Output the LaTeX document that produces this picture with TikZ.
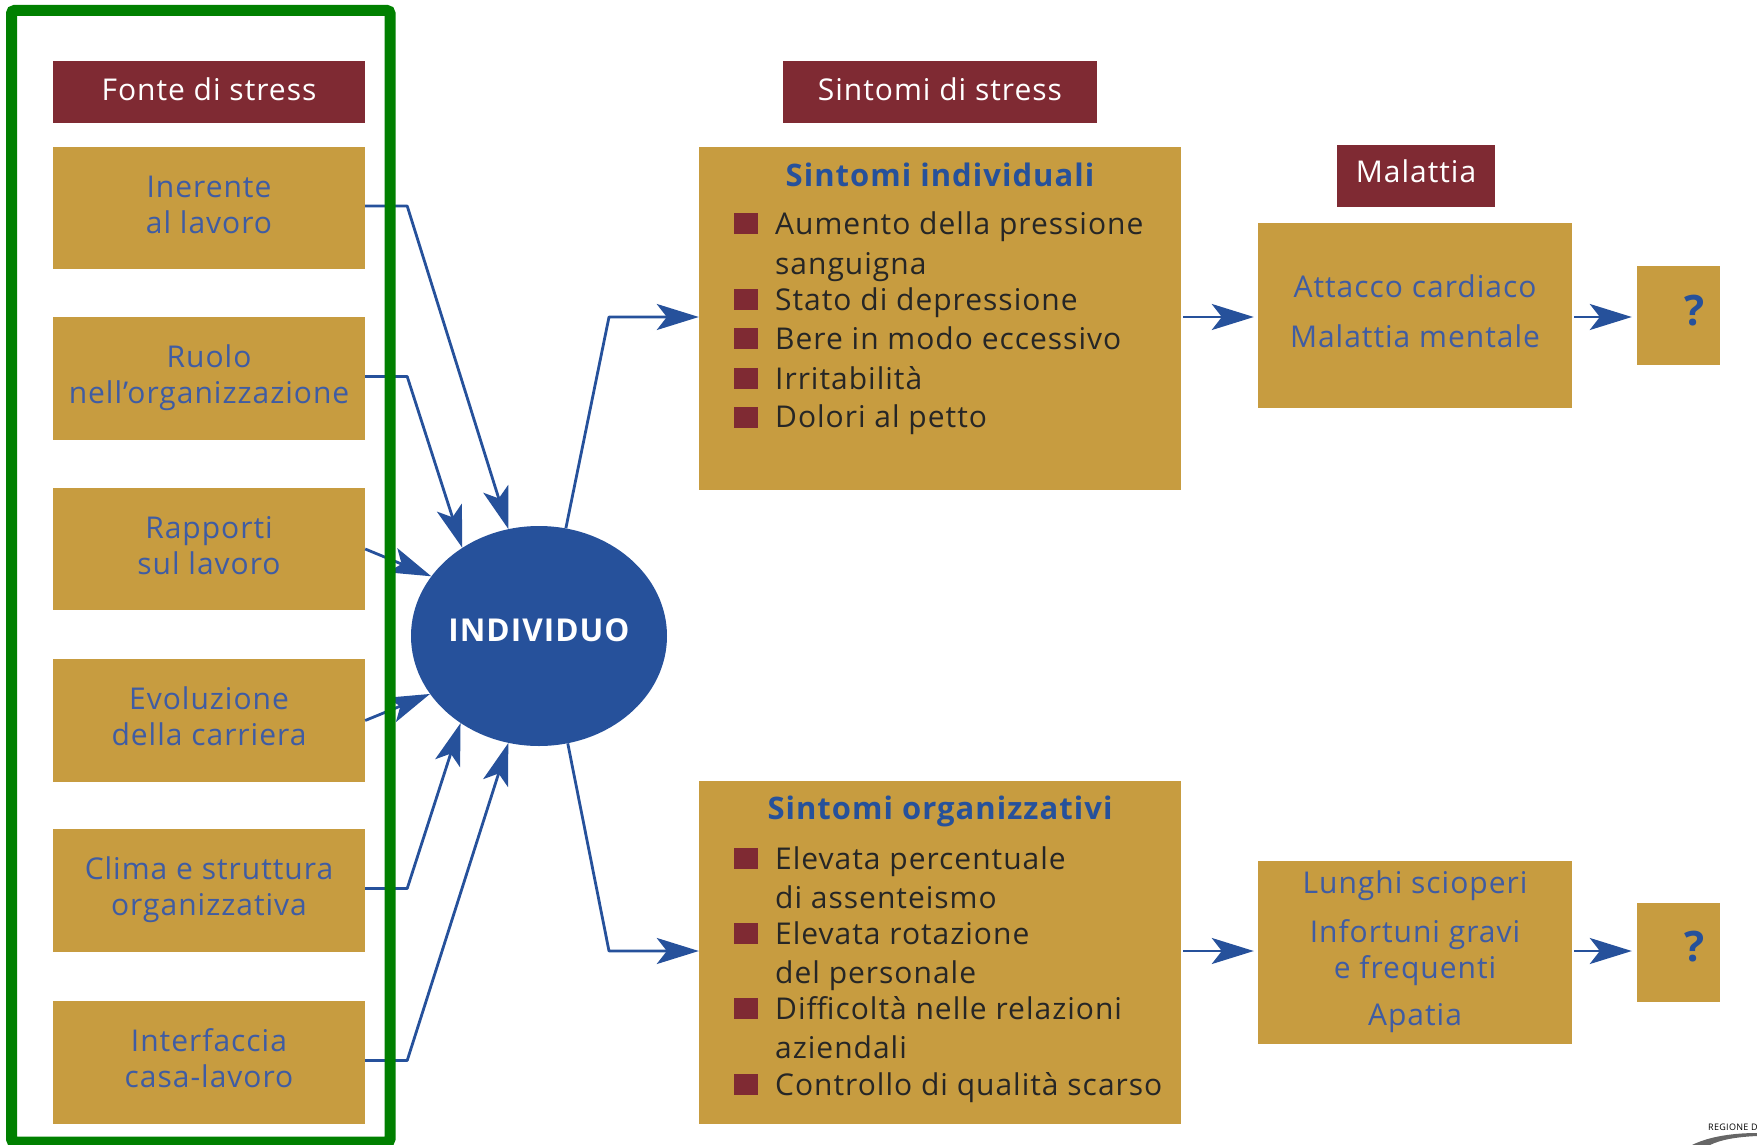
\documentclass[tikz,border=0pt]{standalone}
\usepackage{fontspec}
\setmainfont{Open Sans}[LetterSpace=3.3]
\usetikzlibrary{arrows.meta,shapes.geometric}
\definecolor{rosso}{HTML}{7F2A33}
\definecolor{ocra}{HTML}{C79C40}
\definecolor{blu}{HTML}{26519B}
\definecolor{blutesto}{HTML}{3F5CA3}
\definecolor{verde}{HTML}{008000}

\begin{document}
\begin{tikzpicture}[x=1pt,y=-1pt,
    testa/.style={fill=rosso,text=white,inner sep=0pt,minimum height=62.5pt,text depth=5pt,font=\fontsize{30}{36}\selectfont},
    scatola/.style={fill=ocra,text=blutesto,align=center,inner sep=0pt,font=\fontsize{30}{36.4}\selectfont},
    interrogativo/.style={scatola,text=blu,minimum width=83pt,minimum height=99pt,text depth=11pt,font=\fontsize{42}{44}\selectfont\bfseries},
    voce/.style={anchor=base west,inner sep=0pt,text=black!85,font=\fontsize{30}{36}\selectfont},
    titolo/.style={inner sep=0pt,text=blu,font=\fontsize{31}{36}\selectfont\bfseries},
    punto/.style={fill=rosso,inner sep=0pt,minimum width=24pt,minimum height=21pt},
    freccia/.style={-{Stealth[length=42pt,width=26pt,inset=10pt]},blu,line width=2.8pt,line join=round}]
\useasboundingbox (0,0) rectangle (1757,1145);

% Sources
\node[testa,minimum width=312pt] (fonte) at (209,92) {Fonte di stress};
\foreach \nome/\ypos/\testo in {lavoro/208/{Inerente\\al lavoro},
    ruolo/378.5/{Ruolo\\nell’organizzazione},
    rapporti/549/{Rapporti\\sul lavoro},
    carriera/720.5/{Evoluzione\\della carriera},
    clima/890.5/{Clima e struttura\\organizzativa},
    casa/1062.5/{Interfaccia\\casa-lavoro}} {
    \node[scatola,minimum width=312pt,minimum height=122.5pt] (\nome) at (209,\ypos) {\strut\testo\strut};
}

% Individual
\node[ellipse,fill=blu,text=white,inner sep=0pt,minimum width=256pt,minimum height=220pt] (individuo) at (539,636) {};
\node[inner sep=0pt,text=white,font=\fontsize{31.5}{36}\selectfont\bfseries] (nomeind) at (539,630) {INDIVIDUO};

% Symptoms
\node[testa,minimum width=314pt] (sintomi) at (940,92) {Sintomi di stress};
\node[scatola,minimum width=482pt,minimum height=343pt] (sintind) at (940,318.5) {};
\node[scatola,minimum width=482pt,minimum height=343pt] (sintorg) at (940,952.5) {};
\node[titolo] (titind) at (940,175) {Sintomi individuali};
\node[titolo] (titorg) at (940,811) {Sintomi organizzativi};

% Bullets
\foreach \ypos in {223,299,338,378,417,858,933,1008,1084} {
    \node[punto] (p\ypos) at (746,\ypos) {};
}
\foreach \ypos/\testo in {234/Aumento della pressione,274/sanguigna,310/Stato di depressione,
    349/Bere in modo eccessivo,389/Irritabilità,427/Dolori al petto,
    869/Elevata percentuale,908/di assenteismo,944/Elevata rotazione,983/del personale,
    1019/Difficoltà nelle relazioni,1058/aziendali,1095/Controllo di qualità scarso} {
    \node[voce] (v\ypos) at (775,\ypos) {\testo};
}

% Illness
\node[testa,minimum width=158pt,text depth=10pt] (malattia) at (1416,176) {Malattia};
\node[scatola,minimum width=314pt,minimum height=185pt] (mali) at (1415,315.5) {\strut Attacco cardiaco\\[14pt]Malattia mentale\strut};
\node[scatola,minimum width=314pt,minimum height=183pt] (malo) at (1415,952.5) {\strut Lunghi scioperi\\[12pt]Infortuni gravi\\e frequenti\\[11pt]Apatia\strut};
\node[interrogativo] (esitoi) at (1678.5,315.5) {\hspace*{33pt}?};
\node[interrogativo] (esitoo) at (1678.5,952) {\hspace*{33pt}?};

% Arrows
\coordinate (gomitoi) at (609,317);
\coordinate (gomitoo) at (609,951);
\draw[freccia] ([yshift=2pt]lavoro.east) -- ++(42,0) -- (individuo.106);
\draw[freccia] ([yshift=2pt]ruolo.east) -- ++(42,0) -- (individuo.131);
\draw[freccia] (rapporti.east) -- (individuo.151);
\draw[freccia] (carriera.east) -- (individuo.208);
\draw[freccia] ([yshift=2pt]clima.east) -- ++(42,0) -- (individuo.228);
\draw[freccia] ([yshift=2pt]casa.east) -- ++(42,0) -- (individuo.254);
\draw[freccia] (individuo.76) -- (gomitoi) -- ([yshift=1.5pt]sintind.west);
\draw[freccia] (individuo.285) -- (gomitoo) -- ([yshift=1.5pt]sintorg.west);
\draw[freccia,shorten <=2pt,shorten >=4pt] ([yshift=1.5pt]sintind.east) -- ([yshift=-1.5pt]mali.west);
\draw[freccia,shorten <=2pt,shorten >=4pt] ([yshift=1.5pt]sintorg.east) -- ([yshift=1.5pt]malo.west);
\draw[freccia,shorten <=2pt,shorten >=5pt] ([yshift=-1.5pt]mali.east) -- ([yshift=-1.5pt]esitoi.west);
\draw[freccia,shorten <=2pt,shorten >=5pt] ([yshift=1.5pt]malo.east) -- ([yshift=1pt]esitoo.west);

% Frame
\draw[verde,line width=11pt,rounded corners=3pt] (11.5,10.5) rectangle (390,1142);

% Logo
\node[anchor=base west,inner sep=0pt,font=\fontsize{9}{10}\selectfont] (regione) at (1708,1130) {REGIONE DI};
\fill[black!60] (1692,1145) .. controls (1710,1136) and (1735,1133) .. (1757,1133) -- (1757,1136) .. controls (1735,1137) and (1720,1140) .. (1710,1145) -- cycle;
\end{tikzpicture}
\end{document}
